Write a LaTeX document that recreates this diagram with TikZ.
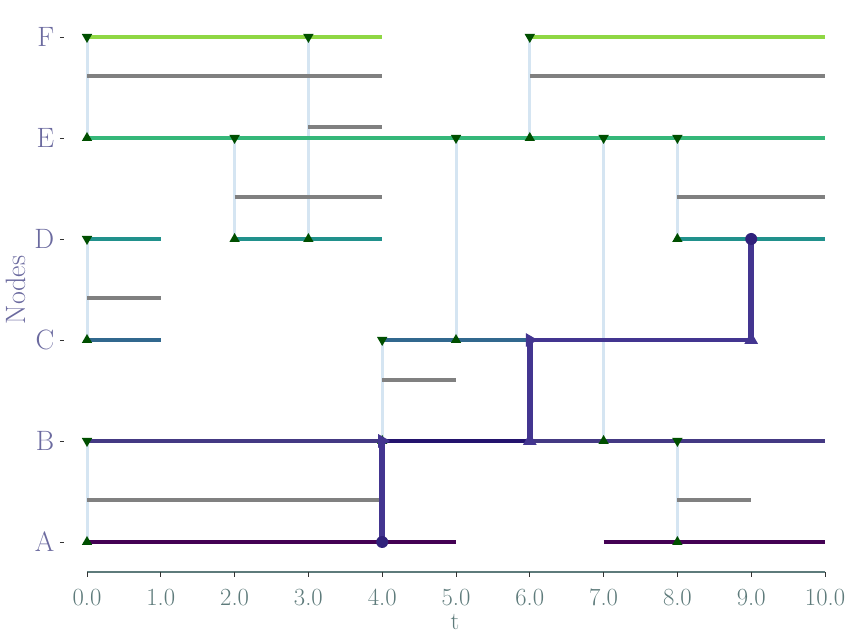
\documentclass[tikz,border=0pt]{standalone}
\usepackage{tikz}
\usetikzlibrary{shapes.geometric,positioning}
\definecolor{rowA}{HTML}{440154}
\definecolor{rowB}{HTML}{443983}
\definecolor{rowC}{HTML}{31688E}
\definecolor{rowD}{HTML}{21918C}
\definecolor{rowE}{HTML}{35B779}
\definecolor{rowF}{HTML}{8FD744}
\definecolor{linkgray}{HTML}{808080}
\definecolor{contactblue}{HTML}{D5E5F2}
\definecolor{markgreen}{HTML}{004F00}
\definecolor{pathblue}{HTML}{433590}
\definecolor{pathdark}{HTML}{23136D}
\definecolor{axisgray}{HTML}{5E7B7B}
\definecolor{labelpurple}{HTML}{6B6A9F}

\tikzset{
  rowline/.style={line width=2.4pt},
  linkline/.style={draw=linkgray, line width=2.4pt},
  contact/.style={draw=contactblue, line width=2.25pt},
  upmark/.style={regular polygon, regular polygon sides=3, fill=markgreen,
    inner sep=0pt, minimum size=9pt},
  downmark/.style={upmark, shape border rotate=180},
  hop/.style={draw=pathblue, line width=4.5pt},
  ride/.style={draw=pathblue, line width=3pt},
  pathup/.style={upmark, fill=pathblue, minimum size=12pt},
  pathright/.style={pathup, shape border rotate=-90},
  pathend/.style={circle, fill=pathdark!60!pathblue, inner sep=0pt, minimum size=9pt},
  ticklabel/.style={text=axisgray, inner sep=1pt, font=\fontsize{18.5}{20}\selectfont},
  rowlabel/.style={text=labelpurple, font=\fontsize{21}{24}\selectfont}
}

\begin{document}
\begin{tikzpicture}[x=55.35pt, y=75.75pt]
  \useasboundingbox (-1.1789,-0.9703) rectangle (10.393,5.3663);

  % contacts between two nodes
  \foreach \x/\hi/\lo in {0/5/4, 0/3/2, 0/1/0, 2/4/3, 3/5/3, 4/2/1,
                          5/4/2, 6/5/4, 7/4/1, 8/4/3, 8/1/0} {
    \coordinate (hi\x\hi) at (\x,\hi);
    \coordinate (lo\x\lo) at (\x,\lo);
    \draw[contact] (hi\x\hi) -- (lo\x\lo);
  }

  % links
  \foreach \yy/\from/\to in {4.614/0/4, 4.614/6/10, 4.109/3/4, 3.416/2/4,
                             3.416/8/10, 2.416/0/1, 1.604/4/5, 0.416/0/4, 0.416/8/9}
    \draw[linkline] (\from,\yy) -- (\to,\yy);

  % node timelines
  \foreach \yy/\col/\from/\to in {5/rowF/0/4, 5/rowF/6/10, 4/rowE/0/10,
                                  3/rowD/0/1, 3/rowD/2/4, 3/rowD/8/10,
                                  2/rowC/0/1, 2/rowC/4/9, 1/rowB/0/10,
                                  0/rowA/0/5, 0/rowA/7/10}
    \draw[rowline, \col] (\from,\yy) -- (\to,\yy);

  \foreach \x/\hi/\lo in {0/5/4, 0/3/2, 0/1/0, 2/4/3, 3/5/3, 4/2/1,
                          5/4/2, 6/5/4, 7/4/1, 8/4/3, 8/1/0} {
    \node[downmark] (mhi\x\hi) at (hi\x\hi) {};
    \node[upmark] (mlo\x\lo) at (lo\x\lo) {};
  }

  % journey
  \coordinate (p1) at (4,0);
  \coordinate (p2) at (4,1);
  \coordinate (p3) at (6,1);
  \coordinate (p4) at (6,2);
  \coordinate (p5) at (9,2);
  \coordinate (p6) at (9,3);
  \draw[hop] (p1) -- (p2);
  \draw[ride, draw=pathdark] (p2) -- (p3);
  \draw[hop] (p3) -- (p4);
  \draw[ride] (p4) -- (p5);
  \draw[hop] (p5) -- (p6);
  \node[pathend] (start) at (p1) {};
  \node[pathright] (board1) at (p2) {};
  \node[pathup] (leave1) at (p3) {};
  \node[pathright] (board2) at (p4) {};
  \node[pathup] (leave2) at (p5) {};
  \node[pathend] (finish) at (p6) {};

  % axes
  \coordinate (xl) at (0,-0.297);
  \coordinate (xr) at (10,-0.297);
  \draw[axisgray, line width=0.9pt] (xl) -- (xr);
  \foreach \x in {0,...,10} {
    \draw[black!80, line width=0.6pt] (\x,-0.297) -- ++(0,-3.5pt);
    \node[ticklabel] (tx\x) at (\x,-0.55) {\x.0};
  }
  \foreach \lab/\yy in {A/0, B/1, C/2, D/3, E/4, F/5} {
    \draw[black!80, line width=0.6pt] (-0.366,\yy) -- ++(3pt,0);
    \node[rowlabel, anchor=east] (ty\lab) at (-0.38,\yy) {\lab};
  }
  \node[rowlabel, rotate=90] (ylabel) at (-0.96,2.495) {Nodes};
  \node[ticklabel] (xlabel) at (4.986,-0.79) {t};
\end{tikzpicture}
\end{document}
